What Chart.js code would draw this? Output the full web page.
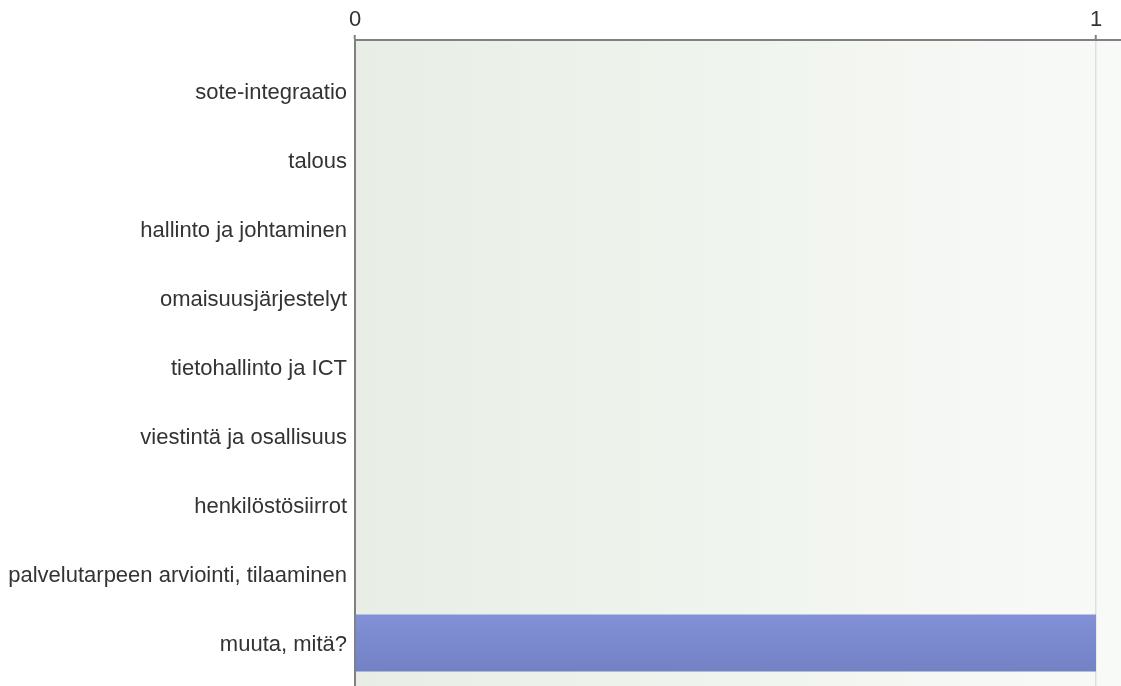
<!DOCTYPE html>
<html>
<head>
<meta charset="utf-8">
<script src="https://cdn.jsdelivr.net/npm/chart.js@4/dist/chart.umd.min.js"></script>
<style>
  html, body { margin: 0; padding: 0; background: #ffffff; }
  #wrap { width: 1121px; height: 686px; position: relative; }
</style>
</head>
<body>
<div id="wrap"><canvas id="c"></canvas></div>
<script>
const categories = [
  "sote-integraatio",
  "talous",
  "hallinto ja johtaminen",
  "omaisuusjärjestelyt",
  "tietohallinto ja ICT",
  "viestintä ja osallisuus",
  "henkilöstösiirrot",
  "palvelutarpeen arviointi, tilaaminen",
  "muuta, mitä?"
];
const values = [0, 0, 0, 0, 0, 0, 0, 0, 1];
const xTickValues = [0, 1];

const bgPlugin = {
  id: 'bgPlugin',
  beforeDraw(chart) {
    const { ctx, chartArea: a } = chart;
    const g = ctx.createLinearGradient(a.left, 0, a.right, 0);
    g.addColorStop(0, '#e8eee5');
    g.addColorStop(1, '#f8faf7');
    ctx.save();
    ctx.fillStyle = g;
    ctx.fillRect(a.left, a.top, a.right - a.left, a.bottom - a.top);
    ctx.restore();
  }
};

function barColor(c) {
  const chart = c.chart;
  const ys = chart.scales && chart.scales.y;
  if (!ys || !chart.chartArea) return '#7b89cf';
  const yc = ys.getPixelForValue(c.dataIndex);
  const g = chart.ctx.createLinearGradient(0, yc - 28, 0, yc + 28);
  g.addColorStop(0, '#8291d7');
  g.addColorStop(1, '#7381c5');
  return g;
}

const FONT = "'Liberation Sans', Arial, sans-serif";

new Chart(document.getElementById('c'), {
  type: 'bar',
  data: {
    datasets: [{
      data: categories.map((_, i) => ({ x: values[i], y: i })),
      backgroundColor: barColor,
      borderWidth: 0,
      barPercentage: 0.826,
      categoryPercentage: 1.0
    }]
  },
  options: {
    indexAxis: 'y',
    responsive: true,
    maintainAspectRatio: false,
    animation: false,
    layout: { padding: 0 },
    plugins: { legend: { display: false }, tooltip: { enabled: false } },
    scales: {
      x: {
        type: 'linear',
        position: 'top',
        offset: false,
        min: 0,
        max: 1.0337,
        afterBuildTicks(scale) { scale.ticks = xTickValues.map(v => ({ value: v })); },
        afterFit(scale) {
          scale.height = 40;
          scale.paddingLeft = 0; scale.paddingRight = 0;
          scale.paddingTop = 0; scale.paddingBottom = 0;
        },
        ticks: {
          color: '#333333',
          font: { family: FONT, size: 22 },
          padding: 2,
          callback: (v) => String(v)
        },
        grid: {
          display: true,
          offset: false,
          drawTicks: true,
          tickLength: 5,
          tickWidth: 2,
          tickColor: '#808080',
          lineWidth: 1.5,
          color: (c) => (c.tick && c.tick.value === 1) ? '#dde2dc' : 'rgba(0,0,0,0)'
        },
        border: { display: true, color: '#808080', width: 2 }
      },
      y: {
        type: 'linear',
        position: 'left',
        offset: false,
        reverse: true,
        min: -0.739,
        max: 8.623,
        afterBuildTicks(scale) { scale.ticks = categories.map((_, i) => ({ value: i })); },
        afterFit(scale) {
          scale.width = 355;
          scale.paddingLeft = 0; scale.paddingRight = 0;
          scale.paddingTop = 0; scale.paddingBottom = 0;
        },
        ticks: {
          color: '#333333',
          font: { family: FONT, size: 22 },
          padding: 8,
          labelOffset: 2,
          autoSkip: false,
          callback: (v) => categories[v] !== undefined ? categories[v] : ''
        },
        grid: { display: false, drawTicks: false, offset: false },
        border: { display: true, color: '#808080', width: 2 }
      }
    }
  },
  plugins: [bgPlugin]
});
</script>
</body>
</html>
